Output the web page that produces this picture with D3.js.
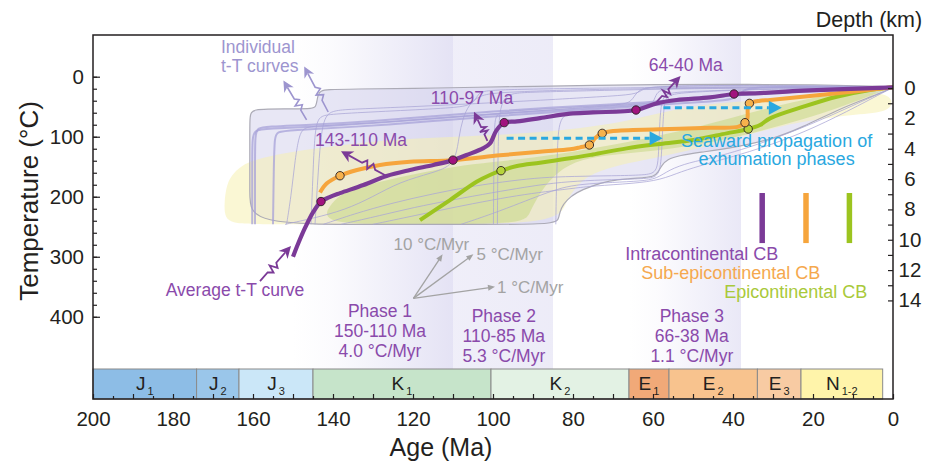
<!DOCTYPE html>
<html>
<head>
<meta charset="utf-8">
<script src="https://cdn.jsdelivr.net/npm/d3@7"></script>
<style>
  html, body { margin: 0; padding: 0; background: #fff; }
  svg { display: block; font-family: "Liberation Sans", Arial, sans-serif; }
</style>
</head>
<body>
<svg id="chart" width="937" height="463"></svg>
<script>
// ---------------- data ----------------
// axes
const tempTicks  = [0, 100, 200, 300, 400];
const tempMinor  = d3.range(0, 401, 20);
const depthTicks = d3.range(0, 15, 1);
const ageMajor   = d3.range(0, 201, 10);
const ageMinor   = d3.range(5, 200, 10);

// geological time scale (Ma)
const periodNames = ["J", "J", "J", "K", "K", "E", "E", "E", "N"];
const periodSubs  = ["1", "2", "3", "1", "2", "1", "2", "3", "1-2"];
const periodStart = [200, 174.1, 163.5, 145, 100.5, 66, 56, 33.9, 23];
const periodEnd   = [174.1, 163.5, 145, 100.5, 66, 56, 33.9, 23, 2.58];

// exhumation phases
const phaseNames = ["Phase 1", "Phase 2", "Phase 3"];
const phaseSpans = ["150-110 Ma", "110-85 Ma", "66-38 Ma"];
const phaseRates = ["4.0 °C/Myr", "5.3 °C/Myr", "1.1 °C/Myr"];
const phaseStart = [150, 110, 66];
const phaseEnd   = [110, 85, 38];

const seriesNames = ["Intracontinental CB", "Sub-epicontinental CB", "Epicontinental CB"];

// average t-T curves [age Ma, temperature °C]
const intraAvg = [[150,300],[148.7,278],[147,252],[145,226],[143,208],[141,201],[138.25,194],[132.4,180.5],
  [126.6,165.5],[120.75,155.5],[114.9,147],[110,139],[106.6,130.5],[102.4,119],[100.75,111],[99.1,89],
  [97.2,76.5],[94,74.5],[88.25,69],[80.75,61.5],[75,59.5],[64.25,55.5],[59.1,44.4],[54.1,38.8],
  [45.75,34.4],[39.75,28.8],[33.25,27.2],[22.4,23.3],[0,17.7]];
const subAvg = [[143.25,193],[141.6,178],[138.25,165],[134,155.5],[128.25,147],[120.75,141.6],[110,139],
  [98.25,131],[88.25,125],[80.75,121],[78.25,117.7],[75.9,113.8],[74.5,102.7],[72.7,94.4],[69.9,90.5],
  [58.25,87.7],[45.75,85],[38.6,83.3],[37,76.6],[36.4,70],[36.3,52],[35.9,44.4],[33.25,40],
  [30.75,38.8],[18.25,30.5],[0,17.7]];
const epiAvg = [[118.25,239],[110.75,205.5],[104.1,175],[100.75,163.8],[98,156.6],[94,148.8],[88.25,143.3],
  [80.75,136],[75,129.5],[66.6,119.4],[58.25,112],[49.9,105.5],[41.6,94.4],[36.2,87.2],[33.25,80.5],
  [30.75,69.4],[22.4,50],[14.1,33.3],[5.75,22],[0,17.7]];

// onset points of exhumation phases
const intraDots = [[143,208],[110,139],[97.2,76.5],[64.25,55.5],[39.75,28.8]];
const subDots   = [[138.25,165],[75.9,113.8],[72.7,94.4],[37,76.6],[35.9,44.4]];
const epiDots   = [[98,156.6],[36.2,87.2]];

// envelopes of the modelled paths
const envelopeAll = [[160.8,246],[160.8,200],[160.8,100],[160.8,68],[160.5,59],[159.4,55],[157,54],[150,53.5],
  [145,53.2],[144.3,50],[144,40],[143.7,29],[143.1,23.5],[141.5,21.5],[135,20.5],[120,19.5],[103,17.5],
  [90,16],[75,14.5],[60,13],[40,12.5],[20,13.5],[0,16],[0,18],[3,27],[5.75,33.8],[14,55.5],[22.5,83.8],
  [30.75,105.5],[39,117],[47.5,125.5],[53.5,131],[56.5,138],[57.75,147],[58.8,160],[59.8,166],[62,168],
  [66,170],[71,173],[75.25,182],[79.25,193],[81.5,205],[83,218],[83.6,235],[84,246],[100,246],[130,246]];
const envelopeSub = [[167.2,215],[166.8,185],[165.5,165],[163,148],[159,137],[153,128],[145,120],[138,114],
  [130,108],[120,103],[110,100],[96,96],[83,90],[74,82],[66,73],[57,58],[48,47],[40,42],[30,38],[20,34],
  [10,28],[0,26],[0,58],[8,62],[18,70],[28,82],[36,96],[44,112],[52,124],[60,136],[68,146],[75,160],
  [79,180],[82,210],[83.5,246],[120,246],[160,246],[165,244],[167,235]];
const envelopeEpi = [[143,246],[141,215],[138,195],[133,182],[125,170],[118,160],[110,150],[100,142],
  [90,135],[80,125],[70,114],[60,100],[50,86],[40,68],[30,50],[20,35],[10,24],[0,18],[5,30],[12,48],
  [20,66],[30,85],[40,102],[50,115],[60,124],[70,130],[78,137],[84,158],[88,190],[91,228],[92,246],[120,246]];

// individual modelled t-T paths
const pathBand1 = [[159.5,246],[159.5,150],[159.5,95],[158.8,86],[157,83],[145,80],[130,74],[115,66],[100,58],[85,51],[70,46],[60,42],[50,36],[40,31],[30,27],[15,22],[0,17.7]];
const pathBand2 = [[160.2,246],[160.2,150],[160.2,100],[159.5,90],[157.5,86.5],[140,82],[125,75],[110,67],[95,60],[80,54],[65,48],[55,42],[45,34],[35,29],[20,24],[0,17.7]];
const pathBand3 = [[155,246],[154.8,150],[154.6,100],[154,92],[151,89],[135,84],[115,74],[100,66],[85,59],[70,52],[55,45],[45,41],[40,38],[38.5,30],[37.3,22],[35,18],[25,16],[0,17.7]];
const pathA = [[151.6,246],[150.5,200],[149.5,140],[148.8,110],[148,90],[146.5,84],[144,82],[130,77],[115,70],[100,62],[85,55],[70,48],[60,44],[50,37],[40,32],[25,25],[0,17.7]];
const pathB = [[144.5,246],[143.9,180],[143.3,120],[142.6,80],[141.5,62],[139.5,56],[135,54],[120,50],[105,45],[90,40],[75,34],[64.5,30],[63,23],[61.5,18],[55,15],[30,14],[0,17]];
const pathC = [[152,246],[145,236],[137,222],[130,200],[123.25,175],[115,160],[111,150],[109.2,133],[108.5,100],[107.6,70],[106,46],[103.5,32],[100,27],[90,24],[75,21],[50,19],[25,18],[0,17.7]];
const pathD = [[99.9,246],[99.8,160],[99.7,80],[99.2,64],[98,59],[95,57],[85,53],[75,49],[68,47],[65.5,42],[64.5,30],[63.2,21],[61,17],[50,15],[25,15.5],[0,17.7]];
const pathE = [[98.9,246],[98.8,150],[98.6,80],[98.1,50],[97,34],[95.2,28],[92,26],[80,24],[60,21],[40,19],[0,17.7]];
const pathF = [[84.3,246],[84.2,200],[84,150],[83.8,100],[83.3,75],[82,62],[79,58],[70,55],[62,52],[60,45],[59.3,30],[58.3,22],[55,19],[40,17],[0,17.7]];
const pathG = [[142.4,246],[135,229],[125,210],[115,195],[105,182],[95,173],[88,168],[80,166],[70,165],[62,164],[59,160],[58.6,130],[58.3,70],[57.8,38],[56.6,28],[53,25],[40,22],[20,19],[0,17.7]];
const pathH = [[138,246],[128,231],[120,218],[110,205],[100,193],[92,184],[85,177],[77,173],[68,171],[61,170],[58.2,165],[57.8,120],[57.4,60],[57,38],[55.8,30],[52,26],[35,21],[0,17.7]];
const pathI = [[108,246],[100,228],[93,210],[88,197],[83,185],[78,179],[70,176],[63,174],[59,170],[56,155],[51,143],[45,135],[38,122],[30,104],[20,78],[10,48],[0,17.7]];
const pathJ = [[130,246],[120,232],[110,218],[100,205],[92,196],[85,190],[80,186],[75,182],[65,178],[58,172],[53,158],[47,146],[40,133],[32,117],[22,92],[12,60],[0,17.7]];
const pathK = [[145.5,246],[145,160],[144.6,100],[144,75],[143,65],[140,62],[125,57],[110,52],[106,48],[104.5,40],[103.7,28],[102,23],[95,21],[70,18.5],[40,17],[0,17.7]];

// annotation texts
const exhumationLabels = ["143-110 Ma", "110-97 Ma", "64-40 Ma"];
const rateLabels = ["10 °C/Myr", "5 °C/Myr", "1 °C/Myr"];

// ---------------- styles ----------------
const C = {
  axis: "#231f20",
  purple: "#7b3a97", purpleText: "#8a4aab", purpleDot: "#a1137e",
  orange: "#f6a53c", orangeText: "#f5a84e", orangeDot: "#f7b24c",
  green: "#9cc41f", greenText: "#a9c93a", greenDot: "#b6d43b",
  blue: "#29a8e0", lav: "#aaa6d6", lavText: "#9d95cf", gray: "#a3a3a3",
  phase: "#d4d1ee"
};
const periodFill = ["#8dbde6", "#9ac6ea", "#cbe7f8", "#c6e4ca", "#e3f2e4", "#f1a978", "#f8c38e", "#f8cba3", "#fff4aa"];

// ---------------- scales ----------------
const svg = d3.select("#chart");
const x = d3.scaleLinear().domain([200, 0]).range([93, 893]);
const y = d3.scaleLinear().domain([-69.5, 537]).range([35, 399]);
const depth = d3.scaleLinear().domain([-3.5, 20.5]).range([35, 399]);
const plotTop = 35, plotBottom = 399, stripTop = 369;

const smooth = d3.line().x(d => x(d[0])).y(d => y(d[1])).curve(d3.curveBasis);
const through = d3.line().x(d => x(d[0])).y(d => y(d[1])).curve(d3.curveCatmullRom.alpha(0.5));
const closed = d3.line().x(d => x(d[0])).y(d => y(d[1])).curve(d3.curveBasisClosed);

// ---------------- phase bands ----------------
const defs = svg.append("defs");
const phaseOpacity = [[0, 0.62], [0.36, 0.42], [0, 0.5]];
phaseStart.forEach((s, i) => {
  const gr = defs.append("linearGradient").attr("id", "phaseGrad" + i)
    .attr("x1", 0).attr("x2", 1).attr("y1", 0).attr("y2", 0);
  gr.append("stop").attr("offset", 0).attr("stop-color", C.phase).attr("stop-opacity", phaseOpacity[i][0]);
  if (i !== 1) gr.append("stop").attr("offset", 0.25).attr("stop-color", C.phase).attr("stop-opacity", phaseOpacity[i][1] * 0.15);
  gr.append("stop").attr("offset", 1).attr("stop-color", C.phase).attr("stop-opacity", phaseOpacity[i][1]);
});
svg.append("g").selectAll("rect").data(phaseStart).join("rect")
  .attr("x", (d, i) => x(d)).attr("y", plotTop)
  .attr("width", (d, i) => x(phaseEnd[i]) - x(d)).attr("height", stripTop - plotTop)
  .attr("fill", (d, i) => `url(#phaseGrad${i})`);

// ---------------- envelopes ----------------
svg.append("path").attr("d", closed(envelopeAll))
  .attr("fill", "#d2cfeb").attr("fill-opacity", 0.5).attr("stroke", "none");
svg.append("path").attr("d", closed(envelopeSub))
  .attr("fill", "#f5f1b0").attr("fill-opacity", 0.55);
svg.append("path").attr("d", closed(envelopeEpi))
  .attr("fill", "#b5d064").attr("fill-opacity", 0.38);
svg.append("path").attr("d", closed(envelopeAll))
  .attr("fill", "none").attr("stroke", "#acabb6").attr("stroke-width", 1.2);

// ---------------- individual paths ----------------
const individual = [pathA, pathB, pathC, pathD, pathE, pathF, pathG, pathH, pathI, pathJ, pathK];
svg.append("g").selectAll("path").data(individual).join("path")
  .attr("d", smooth).attr("fill", "none").attr("stroke", C.lav)
  .attr("stroke-width", 1).attr("stroke-opacity", 0.75);
svg.append("g").selectAll("path").data([pathBand1, pathBand2, pathBand3]).join("path")
  .attr("d", smooth).attr("fill", "none").attr("stroke", "#a7a2d8")
  .attr("stroke-width", 2).attr("stroke-opacity", 0.75);

// ---------------- average curves ----------------
svg.append("path").attr("d", through(epiAvg)).attr("fill", "none")
  .attr("stroke", C.green).attr("stroke-width", 4);
svg.append("path").attr("d", through(subAvg)).attr("fill", "none")
  .attr("stroke", C.orange).attr("stroke-width", 4).attr("stroke-linejoin", "round");
svg.append("path").attr("d", through(intraAvg)).attr("fill", "none")
  .attr("stroke", C.purple).attr("stroke-width", 4.2).attr("stroke-linejoin", "round");

function dots(data, fill) {
  svg.append("g").selectAll("circle").data(data).join("circle")
    .attr("cx", d => x(d[0])).attr("cy", d => y(d[1])).attr("r", 4.2)
    .attr("fill", fill).attr("stroke", "#2b2024").attr("stroke-width", 0.9);
}
dots(epiDots, C.greenDot);
dots(subDots, C.orangeDot);
dots(intraDots, C.purpleDot);

// ---------------- arrows ----------------
function boltArrow(tail, tip, color, sw, head, amp) {
  const x0 = x(tail[0]), y0 = y(tail[1]), x1 = x(tip[0]), y1 = y(tip[1]);
  const dx = x1 - x0, dy = y1 - y0, L = Math.hypot(dx, dy);
  const ux = dx / L, uy = dy / L, nx = -uy, ny = ux;
  const shaft = L - head * 0.7;
  const zig = [[0, 0], [0.3, 0], [0.4, amp], [0.47, -amp * 0.7], [0.56, amp], [0.64, 0], [1, 0]];
  const pts = zig.map(([t, o]) => [x0 + ux * t * shaft + nx * o, y0 + uy * t * shaft + ny * o]);
  svg.append("path").attr("d", d3.line()(pts)).attr("fill", "none")
    .attr("stroke", color).attr("stroke-width", sw).attr("stroke-linejoin", "miter");
  const bx = x1 - ux * head, by = y1 - uy * head, hw = head * 0.5;
  const nxp = x1 - ux * head * 0.7, nyp = y1 - uy * head * 0.7;
  svg.append("path")
    .attr("d", `M${x1},${y1}L${bx + nx * hw},${by + ny * hw}L${nxp},${nyp}L${bx - nx * hw},${by - ny * hw}Z`)
    .attr("fill", color);
}
function plainArrow(from, to, color, sw, head) {
  const x0 = x(from[0]), y0 = y(from[1]), x1 = x(to[0]), y1 = y(to[1]);
  const dx = x1 - x0, dy = y1 - y0, L = Math.hypot(dx, dy);
  const ux = dx / L, uy = dy / L, nx = -uy, ny = ux;
  svg.append("line").attr("x1", x0).attr("y1", y0)
    .attr("x2", x1 - ux * head * 0.8).attr("y2", y1 - uy * head * 0.8)
    .attr("stroke", color).attr("stroke-width", sw);
  const bx = x1 - ux * head, by = y1 - uy * head, hw = head * 0.42;
  svg.append("path").attr("d", `M${x1},${y1}L${bx + nx * hw},${by + ny * hw}L${bx - nx * hw},${by - ny * hw}Z`)
    .attr("fill", color);
}
function dashedArrow(from, to, T) {
  const x0 = x(from), x1 = x(to), yy = y(T), head = 13;
  svg.append("line").attr("x1", x0).attr("x2", x1 - head).attr("y1", yy).attr("y2", yy)
    .attr("stroke", C.blue).attr("stroke-width", 3).attr("stroke-dasharray", "7,4.5");
  svg.append("path").attr("d", `M${x1},${yy}L${x1 - head},${yy - 7}L${x1 - head},${yy + 7}Z`).attr("fill", C.blue);
}

// individual path pointers
boltArrow([146.6, 72], [152.4, 6.5], C.lavText, 1.6, 11, 4);
boltArrow([141.2, 58.8], [147.2, -17], C.lavText, 1.6, 11, 4);
// exhumation pointers
boltArrow([126.6, 165.5], [138, 124], C.purple, 1.8, 12, 4.5);
boltArrow([101.4, 107], [104.75, 58.3], C.purple, 1.8, 12, 4.5);
boltArrow([59.1, 42], [53.1, -1.2], C.purple, 1.8, 12, 4.5);
boltArrow([158.25, 340.5], [150.5, 282], C.purple, 1.8, 12, 4.5);

// cooling-rate reference slopes
const rateOrigin = [119.9, 369.3];
plainArrow(rateOrigin, [112.6, 296], C.gray, 1.3, 7);
plainArrow(rateOrigin, [104.9, 296], C.gray, 1.3, 7);
plainArrow(rateOrigin, [99.5, 350], C.gray, 1.3, 7);

// seaward propagation arrows
dashedArrow(96.6, 57.6, 102.7);
dashedArrow(57.4, 27.8, 51.7);

// ---------------- labels ----------------
function label(pos, text, color, size, anchor) {
  return svg.append("text").attr("x", x(pos[0])).attr("y", y(pos[1]))
    .attr("fill", color).attr("font-size", size).attr("text-anchor", anchor || "middle").text(text);
}
label([168, -39], "Individual", C.lavText, 17.5, "start");
label([168, -8.3], "t-T curves", C.lavText, 17.5, "start");
label([133, 115.5], exhumationLabels[0], C.purpleText, 17.5);
label([105.25, 46.3], exhumationLabels[1], C.purpleText, 17.5);
label([51.8, -10.3], exhumationLabels[2], C.purpleText, 17.5);
label([164.5, 365.5], "Average t-T curve", C.purpleText, 17.5);

label([115.4, 289], rateLabels[0], C.gray, 17);
label([104.1, 305.5], rateLabels[1], C.gray, 17, "start");
label([99, 361], rateLabels[2], C.gray, 17, "start");

const phaseX = [128.25, 97.3, 50.3];
const phaseBase = [401, 409, 409];
phaseNames.forEach((n, i) => {
  label([phaseX[i], phaseBase[i]], n, C.purpleText, 17.5);
  label([phaseX[i], phaseBase[i] + 32.5], phaseSpans[i], C.purpleText, 17.5);
  label([phaseX[i], phaseBase[i] + 66], phaseRates[i], C.purpleText, 17.5);
});

label([29.1, 116.7], "Seaward propagation of", C.blue, 18);
label([29.1, 147.2], "exhumation phases", C.blue, 18);

// legend
const legendAge = [32.7, 21.75, 10.9];
const legendColor = [C.purple, C.orange, C.green];
const legendText = [C.purpleText, C.orangeText, C.greenText];
legendAge.forEach((a, i) => {
  svg.append("line").attr("x1", x(a)).attr("x2", x(a)).attr("y1", y(193.8)).attr("y2", y(277.2))
    .attr("stroke", legendColor[i]).attr("stroke-width", 5.5);
});
const legendPos = [[47.8, 305], [40.55, 337], [24.3, 369.5]];
seriesNames.forEach((n, i) => label(legendPos[i], n, legendText[i], 18));

// ---------------- time scale strip ----------------
const strip = svg.append("g");
strip.selectAll("rect").data(periodStart).join("rect")
  .attr("x", d => x(d)).attr("y", stripTop)
  .attr("width", (d, i) => x(periodEnd[i]) - x(d)).attr("height", plotBottom - stripTop)
  .attr("fill", (d, i) => periodFill[i]).attr("stroke", "#8a8a8a").attr("stroke-width", 1);
const pl = strip.selectAll("text").data(periodStart).join("text")
  .attr("x", (d, i) => (x(d) + x(periodEnd[i])) / 2).attr("y", 390)
  .attr("text-anchor", "middle").attr("fill", "#231f20").attr("font-size", 19);
pl.append("tspan").text((d, i) => periodNames[i]);
pl.append("tspan").attr("font-size", 11).attr("dx", 2).attr("dy", 5).text((d, i) => periodSubs[i]);

// ---------------- axes ----------------
function styleAxis(g, fs) {
  g.select(".domain").remove();
  g.selectAll("line").attr("stroke", C.axis).attr("stroke-width", 1.2);
  g.selectAll("text").attr("fill", C.axis).attr("font-size", fs)
    .attr("font-family", '"Liberation Sans", Arial, sans-serif');
}
svg.append("g").attr("transform", `translate(0,${plotBottom})`)
  .call(d3.axisBottom(x).tickValues(ageMinor).tickSize(-3).tickFormat(""))
  .call(g => styleAxis(g, 0));
svg.append("g").attr("transform", `translate(0,${plotBottom})`)
  .call(d3.axisBottom(x).tickValues(ageMajor).tickSize(-5).tickPadding(12)
    .tickFormat(d => d % 20 === 0 ? d : ""))
  .call(g => styleAxis(g, 20.5));

svg.append("g").attr("transform", `translate(${x(200)},0)`)
  .call(d3.axisLeft(y).tickValues(tempMinor).tickSize(-4).tickFormat(""))
  .call(g => styleAxis(g, 0));
svg.append("g").attr("transform", `translate(${x(200)},0)`)
  .call(d3.axisLeft(y).tickValues(tempTicks).tickSize(-7).tickPadding(9))
  .call(g => styleAxis(g, 20.5));

svg.append("g").attr("transform", `translate(${x(0)},0)`)
  .call(d3.axisRight(depth).tickValues(depthTicks).tickSize(-5).tickPadding(17)
    .tickFormat(d => d % 2 === 0 ? d : ""))
  .call(g => styleAxis(g, 20.5))
  .call(g => g.selectAll("text").attr("text-anchor", "middle"));

// frame
svg.append("rect").attr("x", x(200)).attr("y", plotTop)
  .attr("width", x(0) - x(200)).attr("height", plotBottom - plotTop)
  .attr("fill", "none").attr("stroke", C.axis).attr("stroke-width", 1.5);

// axis titles
svg.append("text").attr("transform", `translate(38,201) rotate(-90)`)
  .attr("text-anchor", "middle").attr("font-size", 26).attr("fill", C.axis).text("Temperature (°C)");
svg.append("text").attr("x", 441).attr("y", 456)
  .attr("text-anchor", "middle").attr("font-size", 25).attr("fill", C.axis).text("Age (Ma)");
svg.append("text").attr("x", 869).attr("y", 27)
  .attr("text-anchor", "middle").attr("font-size", 21.5).attr("fill", C.axis).text("Depth (km)");
</script>
</body>
</html>
